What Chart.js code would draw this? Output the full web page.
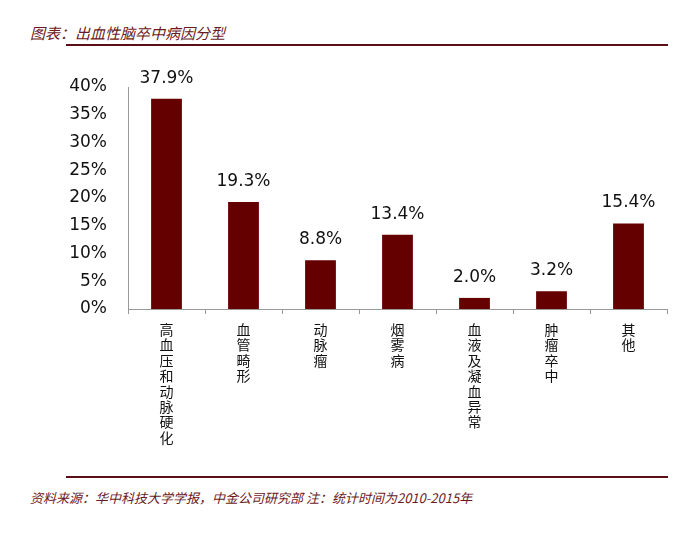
<!DOCTYPE html>
<html>
<head>
<meta charset="utf-8">
<script src="https://cdn.jsdelivr.net/npm/chart.js@4.4.0/dist/chart.umd.min.js"></script>
<style>
  body { margin: 0; background: #fff; width: 700px; height: 533px; position: relative; overflow: hidden; }
  #title { position: absolute; left: 30px; top: 22px; font: italic 15px "Noto Sans CJK SC", sans-serif; color: #6b1a22; }
  #footnote { position: absolute; left: 30px; top: 488px; font: italic 13px "Noto Sans CJK SC", sans-serif; color: #6b1a22; }
  .rule { position: absolute; left: 66px; width: 602px; height: 1.5px; background: #5a0f16; }
  #chart-wrap { position: absolute; left: 0; top: 50px; width: 700px; height: 420px; }
</style>
</head>
<body>
<div id="title">图表：出血性脑卒中病因分型</div>
<div class="rule" style="top:44px"></div>
<div id="chart-wrap"><canvas id="cause-chart" width="700" height="420"></canvas></div>
<div class="rule" style="top:476px"></div>
<div id="footnote">资料来源：华中科技大学学报，中金公司研究部 注：统计时间为2010-2015年</div>
<script>
const categories = ["高血压和动脉硬化", "血管畸形", "动脉瘤", "烟雾病", "血液及凝血异常", "肿瘤卒中", "其他"];
const shares = [37.9, 19.3, 8.8, 13.4, 2.0, 3.2, 15.4];
const yTicks = [0, 5, 10, 15, 20, 25, 30, 35, 40];

// one character per line, like the vertical labels in the source
const verticalLabels = categories.map((c) => c.split(""));

const valueLabels = {
  id: "valueLabels",
  afterDatasetsDraw(chart) {
    const ctx = chart.ctx;
    const meta = chart.getDatasetMeta(0);
    ctx.save();
    ctx.font = '17px "DejaVu Sans", sans-serif';
    ctx.fillStyle = "#111";
    ctx.textAlign = "center";
    ctx.textBaseline = "bottom";
    meta.data.forEach((bar, i) => {
      ctx.fillText(shares[i].toFixed(1) + "%", bar.x, bar.y - 12);
    });
    ctx.restore();
  },
};

new Chart(document.getElementById("cause-chart"), {
  type: "bar",
  data: {
    labels: verticalLabels,
    datasets: [
      {
        data: shares,
        backgroundColor: "#650000",
        barPercentage: 0.4,
        categoryPercentage: 1,
      },
    ],
  },
  options: {
    responsive: false,
    animation: false,
    layout: { padding: { top: 37, right: 33, left: 0, bottom: 0 } },
    plugins: { legend: { display: false }, tooltip: { enabled: false } },
    scales: {
      x: {
        afterFit: (scale) => { scale.height = 161; },
        grid: { offset: true, drawOnChartArea: false, tickLength: 5, color: "#999" },
        border: { color: "#999" },
        ticks: {
          maxRotation: 0,
          autoSkip: false,
          padding: 8,
          color: "#111",
          font: { family: '"Noto Sans CJK SC", sans-serif', size: 14, lineHeight: 1.1 },
        },
      },
      y: {
        min: 0,
        max: 40,
        afterFit: (scale) => { scale.width = 128; },
        afterBuildTicks: (scale) => { scale.ticks = yTicks.map((v) => ({ value: v })); },
        grid: { display: false, drawTicks: false },
        border: { color: "#999" },
        ticks: {
          padding: 21,
          color: "#111",
          font: { family: '"DejaVu Sans", sans-serif', size: 17 },
          callback: (v) => v + "%",
        },
      },
    },
  },
  plugins: [valueLabels],
});
</script>
</body>
</html>
